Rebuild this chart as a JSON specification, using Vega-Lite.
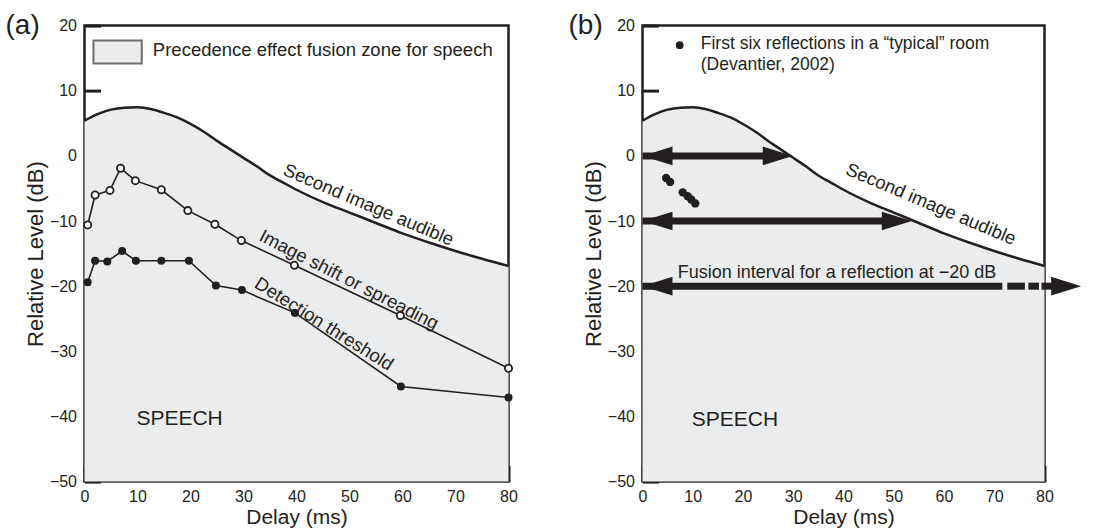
{
  "$schema": "https://vega.github.io/schema/vega-lite/v6.json",
  "padding": {"left": 3.5, "top": 9.6, "right": 0, "bottom": 0},
  "background": "white",
  "bounds": "flush",
  "spacing": 134,
  "datasets": {
    "curve": [
      {"delay": 0, "level": 5.4}, {"delay": 2.5, "level": 6.4}, {"delay": 5, "level": 7.1}, {"delay": 7.5, "level": 7.4},
      {"delay": 10, "level": 7.45}, {"delay": 12.5, "level": 7.2}, {"delay": 15, "level": 6.6}, {"delay": 17.5, "level": 5.9},
      {"delay": 20, "level": 4.9}, {"delay": 22.5, "level": 3.7}, {"delay": 25, "level": 2.3}, {"delay": 27.5, "level": 1.0},
      {"delay": 30, "level": -0.3}, {"delay": 32.5, "level": -1.6}, {"delay": 35, "level": -3.0}, {"delay": 37.5, "level": -4.1},
      {"delay": 40, "level": -5.2}, {"delay": 45, "level": -7.1}, {"delay": 50, "level": -8.7}, {"delay": 55, "level": -10.3},
      {"delay": 60, "level": -11.9}, {"delay": 65, "level": -13.3}, {"delay": 70, "level": -14.6}, {"delay": 75, "level": -15.8},
      {"delay": 80, "level": -16.9}
    ],
    "series": [
      {"series": "shift", "delay": 0.6, "level": -10.6}, {"series": "shift", "delay": 2, "level": -6.0},
      {"series": "shift", "delay": 4.8, "level": -5.3}, {"series": "shift", "delay": 6.8, "level": -1.9},
      {"series": "shift", "delay": 9.6, "level": -3.8}, {"series": "shift", "delay": 14.5, "level": -5.2},
      {"series": "shift", "delay": 19.5, "level": -8.4}, {"series": "shift", "delay": 24.6, "level": -10.5},
      {"series": "shift", "delay": 29.6, "level": -13.0}, {"series": "shift", "delay": 39.6, "level": -16.8},
      {"series": "shift", "delay": 59.6, "level": -24.5}, {"series": "shift", "delay": 80, "level": -32.6},
      {"series": "detect", "delay": 0.6, "level": -19.4}, {"series": "detect", "delay": 2, "level": -16.1},
      {"series": "detect", "delay": 4.3, "level": -16.2}, {"series": "detect", "delay": 7.1, "level": -14.6},
      {"series": "detect", "delay": 9.7, "level": -16.1}, {"series": "detect", "delay": 14.5, "level": -16.1},
      {"series": "detect", "delay": 19.7, "level": -16.1}, {"series": "detect", "delay": 24.8, "level": -19.9},
      {"series": "detect", "delay": 29.7, "level": -20.6}, {"series": "detect", "delay": 39.7, "level": -24.1},
      {"series": "detect", "delay": 59.7, "level": -35.4}, {"series": "detect", "delay": 80, "level": -37.1}
    ],
    "reflections": [
      {"delay": 4.7, "level": -3.4}, {"delay": 5.5, "level": -4.0}, {"delay": 8.0, "level": -5.6},
      {"delay": 9.0, "level": -6.2}, {"delay": 9.7, "level": -6.7}, {"delay": 10.5, "level": -7.3}
    ],
    "shafts": [
      {"delay": 0, "delay2": 27, "level": 0},
      {"delay": 0, "delay2": 50, "level": -10},
      {"delay": 0, "delay2": 71.6, "level": -20},
      {"delay": 72.6, "delay2": 76.1, "level": -20},
      {"delay": 76.8, "delay2": 78.9, "level": -20},
      {"delay": 79.4, "delay2": 83, "level": -20}
    ],
    "headsLeft": [
      {"delay": 0, "level": 0}, {"delay": 0, "level": -10}, {"delay": 0, "level": -20}
    ],
    "headsRight": [
      {"delay": 29.9, "level": 0}, {"delay": 53.6, "level": -10}, {"delay": 87.3, "level": -20}
    ]
  },
  "hconcat": [
    {
      "width": 424,
      "height": 456,
      "title": {"text": "(a)", "dx": -79},
      "encoding": {
        "x": {"field": "delay", "type": "quantitative", "title": "Delay (ms)",
              "scale": {"domain": [0, 80], "nice": false, "zero": false},
              "axis": {"values": [0, 10, 20, 30, 40, 50, 60, 70, 80]}},
        "y": {"field": "level", "type": "quantitative", "title": "Relative Level (dB)",
              "scale": {"domain": [-50, 20], "nice": false, "zero": false},
              "axis": {"values": [-50, -40, -30, -20, -10, 0, 10, 20],
                       "tickOpacity": {"condition": {"test": "datum.value === 0", "value": 0}, "value": 1}}}
      },
      "layer": [
        {"data": {"name": "curve"}, "mark": {"type": "area", "color": "#ebecee", "interpolate": "monotone"},
         "encoding": {"y2": {"datum": -50}}},
        {"data": {"values": [{}]}, "mark": {"type": "rule", "color": "#231f20", "strokeWidth": 1},
         "encoding": {"x": {"datum": 0}, "x2": {"datum": 80}, "y": {"datum": 0}}},
        {"data": {"name": "curve"}, "mark": {"type": "line", "color": "#231f20", "strokeWidth": 2.5, "interpolate": "monotone"}},
        {"data": {"values": [{"delay": 1.7, "delay2": 10.8, "level": 17.7, "level2": 14.2}]},
         "mark": {"type": "rect", "fill": "#ebecee", "stroke": "#6d6e70", "strokeWidth": 2},
         "encoding": {"x2": {"field": "delay2"}, "y2": {"field": "level2"}}},
        {"data": {"values": [{"delay": 12.9, "level": 16.2, "label": "Precedence effect fusion zone for speech"}]},
         "mark": {"type": "text", "align": "left", "baseline": "middle", "fontSize": 18.5, "color": "#231f20"},
         "encoding": {"text": {"field": "label"}}},
        {"data": {"name": "series"}, "mark": {"type": "line", "color": "#231f20", "strokeWidth": 1.6},
         "encoding": {"detail": {"field": "series"}}},
        {"data": {"name": "series"}, "transform": [{"filter": "datum.series === 'shift'"}],
         "mark": {"type": "point", "shape": "circle", "filled": true, "fill": "white", "stroke": "#231f20", "strokeWidth": 1.8, "size": 52, "opacity": 1}},
        {"data": {"name": "series"}, "transform": [{"filter": "datum.series === 'detect'"}],
         "mark": {"type": "point", "shape": "circle", "filled": true, "color": "#231f20", "size": 64, "opacity": 1}},
        {"data": {"values": [{"delay": 53.6, "level": -7.5, "label": "Second image audible"}]},
         "mark": {"type": "text", "align": "center", "baseline": "middle", "angle": 23, "fontSize": 18.5, "color": "#231f20"},
         "encoding": {"text": {"field": "label"}}},
        {"data": {"values": [{"delay": 49.9, "level": -19.0, "label": "Image shift or spreading"}]},
         "mark": {"type": "text", "align": "center", "baseline": "middle", "angle": 27, "fontSize": 18.5, "color": "#231f20"},
         "encoding": {"text": {"field": "label"}}},
        {"data": {"values": [{"delay": 45.2, "level": -25.8, "label": "Detection threshold"}]},
         "mark": {"type": "text", "align": "center", "baseline": "middle", "angle": 32, "fontSize": 18.5, "color": "#231f20"},
         "encoding": {"text": {"field": "label"}}},
        {"data": {"values": [{"delay": 9.8, "level": -40.4, "label": "SPEECH"}]},
         "mark": {"type": "text", "align": "left", "baseline": "middle", "fontSize": 21, "color": "#231f20"},
         "encoding": {"text": {"field": "label"}}}
      ]
    },
    {
      "width": 402,
      "height": 456,
      "title": {"text": "(b)", "dx": -74},
      "encoding": {
        "x": {"field": "delay", "type": "quantitative", "title": "Delay (ms)",
              "scale": {"domain": [0, 80], "nice": false, "zero": false},
              "axis": {"values": [0, 10, 20, 30, 40, 50, 60, 70, 80]}},
        "y": {"field": "level", "type": "quantitative", "title": "Relative Level (dB)",
              "scale": {"domain": [-50, 20], "nice": false, "zero": false},
              "axis": {"values": [-50, -40, -30, -20, -10, 0, 10, 20],
                       "tickOpacity": {"condition": {"test": "datum.value === 0", "value": 0}, "value": 1}}}
      },
      "layer": [
        {"data": {"name": "curve"}, "mark": {"type": "area", "color": "#ebecee", "interpolate": "monotone"},
         "encoding": {"y2": {"datum": -50}}},
        {"data": {"values": [{}]}, "mark": {"type": "rule", "color": "#231f20", "strokeWidth": 1},
         "encoding": {"x": {"datum": 0}, "x2": {"datum": 80}, "y": {"datum": 0}}},
        {"data": {"name": "curve"}, "mark": {"type": "line", "color": "#231f20", "strokeWidth": 2.5, "interpolate": "monotone"}},
        {"data": {"name": "shafts"}, "mark": {"type": "rule", "color": "#231f20", "strokeWidth": 7, "strokeCap": "butt"},
         "encoding": {"x2": {"field": "delay2"}}},
        {"data": {"name": "headsLeft"},
         "mark": {"type": "point", "shape": "M0,0L2,-0.62L2,0.62Z", "size": 900, "filled": true, "color": "#231f20", "opacity": 1, "strokeWidth": 0}},
        {"data": {"name": "headsRight"},
         "mark": {"type": "point", "shape": "M0,0L-2,-0.62L-2,0.62Z", "size": 900, "filled": true, "color": "#231f20", "opacity": 1, "strokeWidth": 0}},
        {"data": {"name": "reflections"},
         "mark": {"type": "point", "shape": "circle", "filled": true, "color": "#231f20", "size": 70, "opacity": 1}},
        {"data": {"values": [{"delay": 7.4, "level": 17.0}]},
         "mark": {"type": "point", "shape": "circle", "filled": true, "color": "#231f20", "size": 60, "opacity": 1}},
        {"data": {"values": [
            {"delay": 11.6, "level": 17.1, "label": "First six reflections in a “typical” room"},
            {"delay": 11.6, "level": 14.0, "label": "(Devantier, 2002)"}]},
         "mark": {"type": "text", "align": "left", "baseline": "middle", "fontSize": 17.5, "color": "#231f20"},
         "encoding": {"text": {"field": "label"}}},
        {"data": {"values": [{"delay": 57.4, "level": -7.4, "label": "Second image audible"}]},
         "mark": {"type": "text", "align": "center", "baseline": "middle", "angle": 23, "fontSize": 18.5, "color": "#231f20"},
         "encoding": {"text": {"field": "label"}}},
        {"data": {"values": [{"delay": 38.7, "level": -18.0, "label": "Fusion interval for a reflection at −20 dB"}]},
         "mark": {"type": "text", "align": "center", "baseline": "middle", "fontSize": 18, "color": "#231f20"},
         "encoding": {"text": {"field": "label"}}},
        {"data": {"values": [{"delay": 9.8, "level": -40.5, "label": "SPEECH"}]},
         "mark": {"type": "text", "align": "left", "baseline": "middle", "fontSize": 21, "color": "#231f20"},
         "encoding": {"text": {"field": "label"}}}
      ]
    }
  ],
  "config": {
    "font": "Liberation Sans",
    "view": {"stroke": "#231f20", "strokeWidth": 2.5},
    "axis": {
      "grid": false, "domain": false,
      "tickSize": -16, "tickWidth": 3, "tickColor": "#231f20",
      "labelFont": "Liberation Sans", "labelFontSize": 16, "labelColor": "#231f20",
      "labelFlush": false,
      "titleFont": "Liberation Sans", "titleFontSize": 22, "titleFontWeight": "normal", "titleColor": "#231f20"
    },
    "axisX": {"labelPadding": 23, "titlePadding": 2, "titleFontSize": 21},
    "axisY": {"labelPadding": 24, "titlePadding": 2},
    "title": {"font": "Liberation Sans", "fontSize": 28, "fontWeight": "normal", "anchor": "start", "frame": "group",
              "color": "#231f20", "baseline": "alphabetic", "offset": -22}
  }
}
